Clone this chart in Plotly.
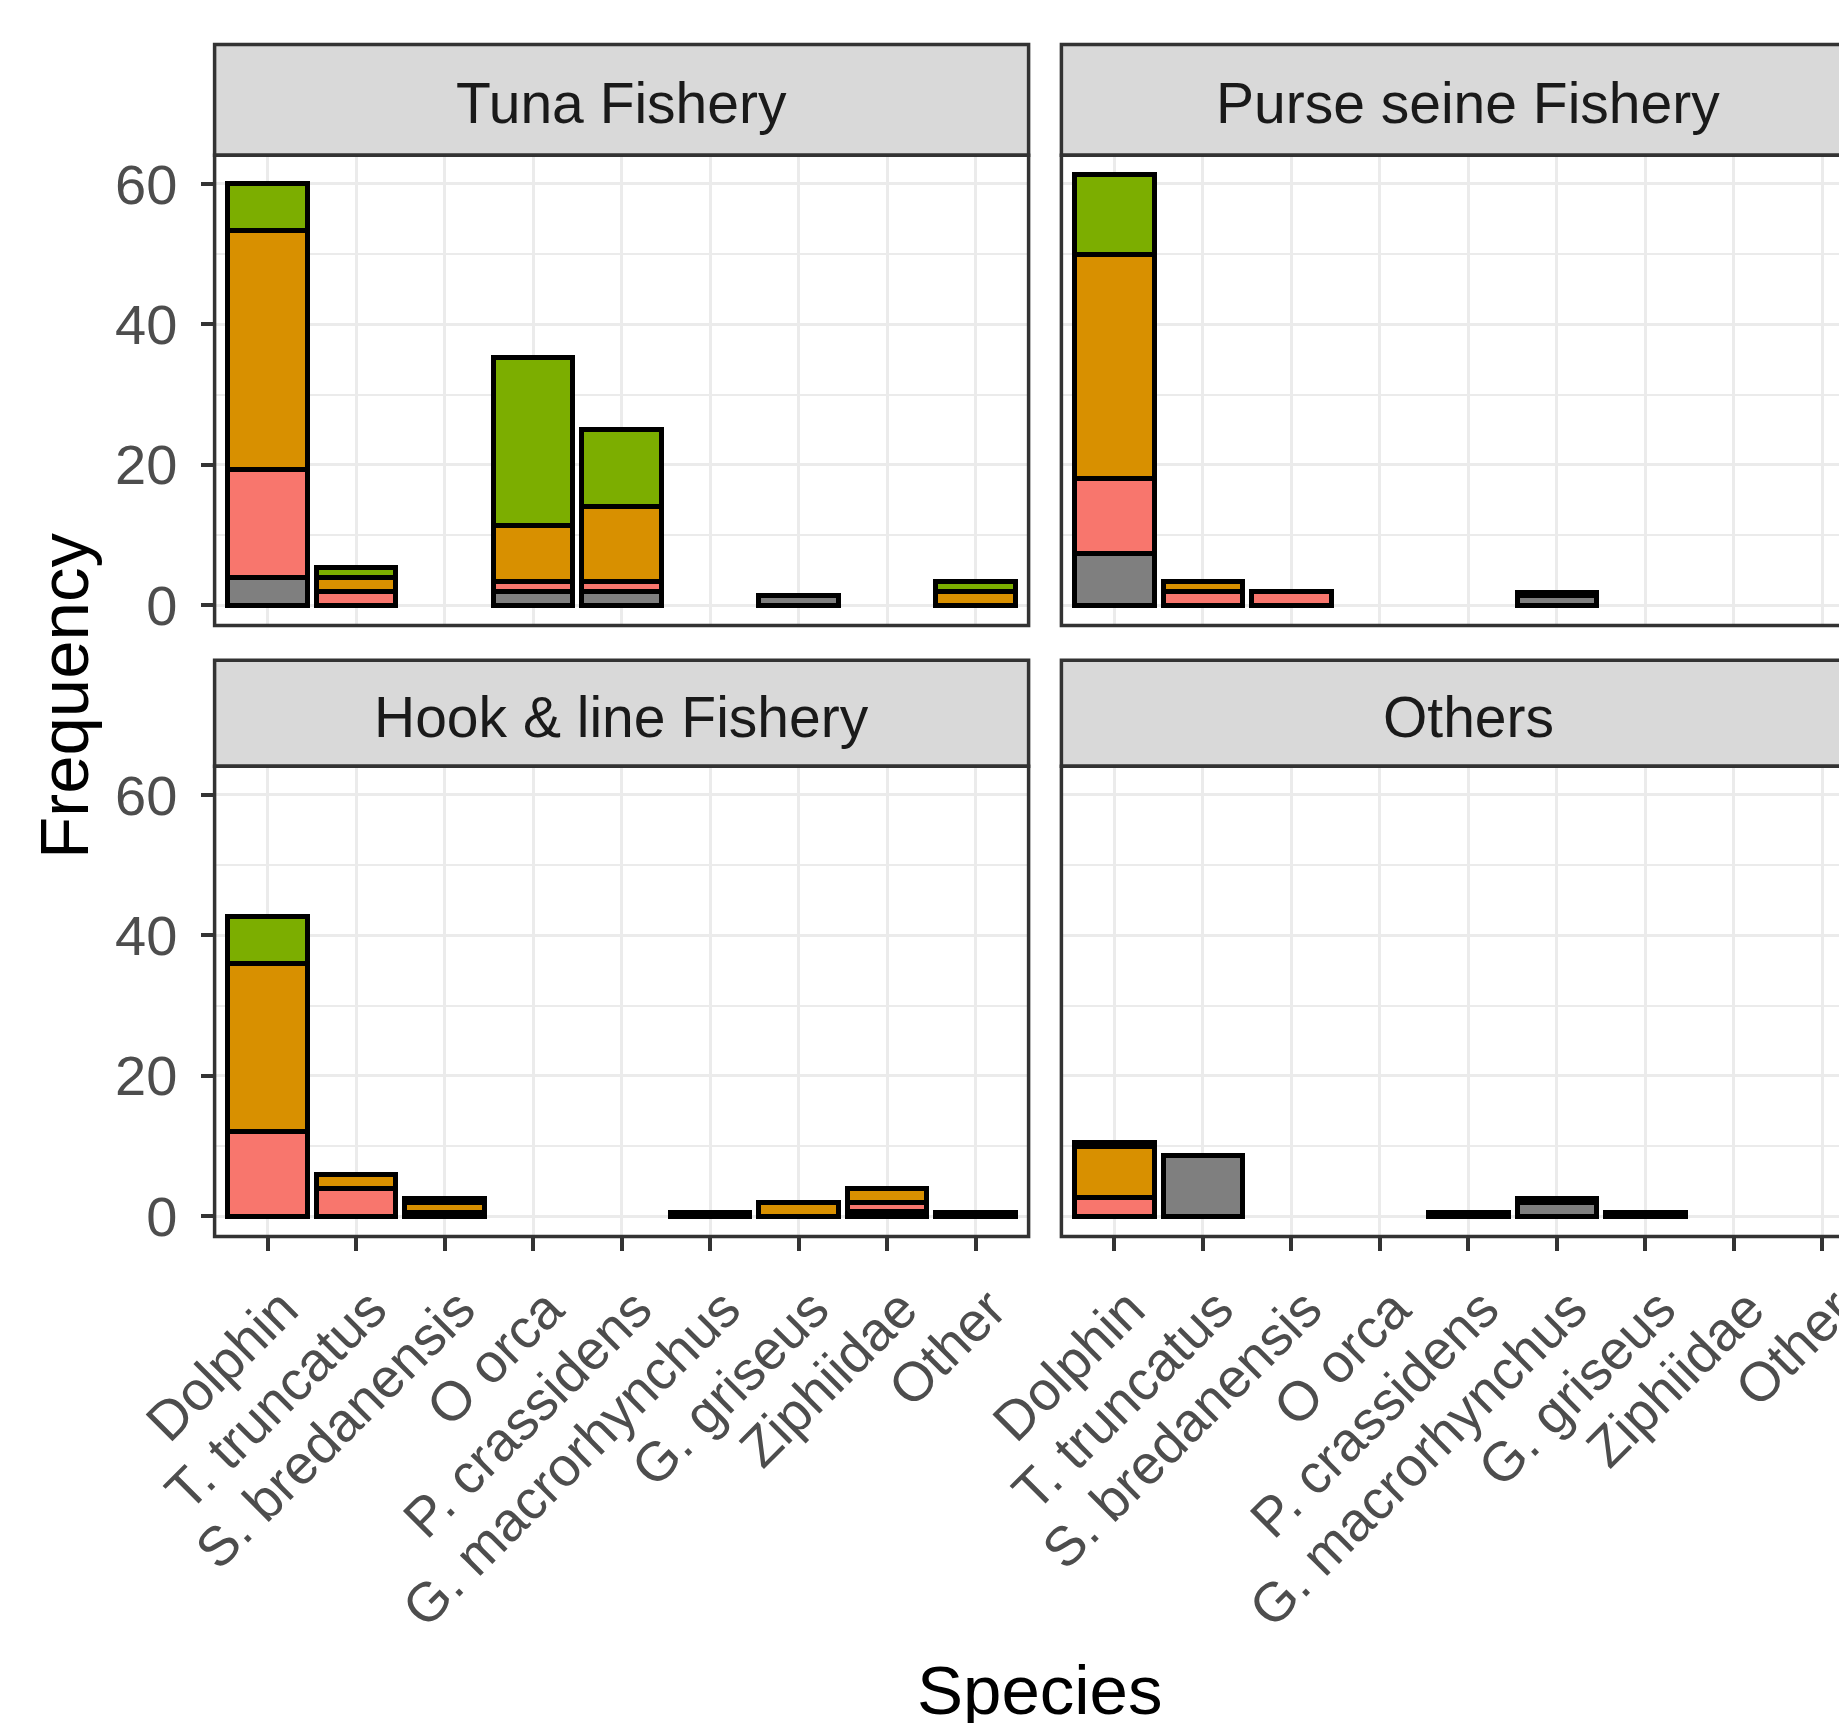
import plotly.graph_objects as go

# ---- data -------------------------------------------------------------
species = ["Dolphin", "T. truncatus", "S. bredanensis", "O orca", "P. crassidens",
           "G. macrorhynchus", "G. griseus", "Ziphiidae", "Other"]

fisheries = ["Tuna Fishery", "Purse seine Fishery", "Hook & line Fishery", "Others"]

groups = ["Not recorded", "Group A", "Group B", "Group C"]          # bottom -> top of stack
group_colors = ["#7F7F7F", "#F8766D", "#D89000", "#7CAE00"]

tuna_not_recorded = [4, 0, 0, 2, 2, 0, 1.33, 0, 0]
tuna_group_a      = [15.33, 2, 0, 1.33, 1.33, 0, 0, 0, 0]
tuna_group_b      = [34, 2, 0, 8, 10.67, 0, 0, 0, 2]
tuna_group_c      = [6.67, 1.33, 0, 24, 11, 0, 0, 0, 1.33]

purse_not_recorded = [7.33, 0, 0, 0, 0, 1.33, 0, 0, 0]
purse_group_a      = [10.67, 2, 2, 0, 0, 0, 0, 0, 0]
purse_group_b      = [32, 1.33, 0, 0, 0, 0, 0, 0, 0]
purse_group_c      = [11.33, 0, 0, 0, 0, 0.5, 0, 0, 0]

hook_not_recorded = [0, 0, 0.5, 0, 0, 0.5, 0, 0.67, 0.5]
hook_group_a      = [12, 4, 0, 0, 0, 0, 0, 1.33, 0]
hook_group_b      = [24, 2, 1.5, 0, 0, 0, 2, 2, 0]
hook_group_c      = [6.67, 0, 0.5, 0, 0, 0, 0, 0, 0]

others_not_recorded = [0, 8.67, 0, 0, 0.5, 2, 0.5, 0, 0]
others_group_a      = [2.67, 0, 0, 0, 0, 0, 0, 0, 0]
others_group_b      = [7.33, 0, 0, 0, 0, 0, 0, 0, 0]
others_group_c      = [0.5, 0, 0, 0, 0, 0.5, 0, 0, 0]

y_ticks = [0, 20, 40, 60]

panel_data = {
    "Tuna Fishery": [tuna_not_recorded, tuna_group_a, tuna_group_b, tuna_group_c],
    "Purse seine Fishery": [purse_not_recorded, purse_group_a, purse_group_b, purse_group_c],
    "Hook & line Fishery": [hook_not_recorded, hook_group_a, hook_group_b, hook_group_c],
    "Others": [others_not_recorded, others_group_a, others_group_b, others_group_c],
}

# ---- layout geometry (pixels) ----------------------------------------
W, H = 1839, 1723
FONT = "Liberation Sans, Arial, sans-serif"
UNIT_X = 814.0 / 9.2            # pixels per category step

col_x = [(214.6, 1028.6), (1061.4, 1875.4)]
row_y = [(155.2, 625.6), (766.2, 1236.6)]      # panel body top/bottom
strip_top = [44.6, 660.3]
Y_RANGE = [-2.9, 64.1]
GRID = "#EBEBEB"


def px(x):
    return x / W


def py(y):
    return 1 - y / H


fig = go.Figure()

axis_ids = ["", "2", "3", "4"]
for k, name in enumerate(fisheries):
    r, c = divmod(k, 2)
    xa = "x" + axis_ids[k]
    ya = "y" + axis_ids[k]
    for g, vals in enumerate(panel_data[name]):
        fig.add_trace(go.Bar(
            x=species,
            y=[v if v else None for v in vals],
            name=groups[g],
            marker=dict(color=group_colors[g], line=dict(color="black", width=5)),
            xaxis=xa, yaxis=ya,
            showlegend=False,
        ))

    x0, x1 = col_x[c]
    y0, y1 = row_y[r]
    x_dom = [px(x0), min(px(x1), 1.0)]
    x_hi = -0.6 + (min(x1, W) - x0) / UNIT_X
    bottom = (r == 1)
    left = (c == 0)

    xaxis = dict(
        domain=x_dom, anchor=ya, type="category", automargin=False,
        categoryorder="array", categoryarray=species,
        range=[-0.6, x_hi], showgrid=True, gridcolor=GRID, gridwidth=2.8,
        zeroline=False, showline=False, fixedrange=True,
        showticklabels=bottom, ticks="outside" if bottom else "",
        ticklen=13, tickwidth=3.5, tickcolor="#333333",
        tickangle=-45, ticklabelshift=14, ticklabelstandoff=4,
        tickfont=dict(family=FONT, size=55, color="#4D4D4D"),
    )
    yaxis = dict(
        domain=[py(y1), py(y0)], anchor=xa, range=Y_RANGE, automargin=False,
        tickvals=y_ticks, showgrid=True, gridcolor=GRID, gridwidth=2.8,
        minor=dict(dtick=10, tick0=0, showgrid=True, gridcolor=GRID, gridwidth=2.4),
        zeroline=False, showline=False, fixedrange=True,
        showticklabels=left, ticks="outside" if left else "",
        ticklen=13, tickwidth=3.5, tickcolor="#333333",
        ticklabelstandoff=12,
        tickfont=dict(family=FONT, size=56, color="#4D4D4D"),
    )
    fig.layout["xaxis" + axis_ids[k]] = xaxis
    fig.layout["yaxis" + axis_ids[k]] = yaxis

    # strip
    fig.add_shape(type="rect", xref="paper", yref="paper",
                  x0=px(x0), x1=px(x1), y0=py(y0), y1=py(strip_top[r]),
                  fillcolor="#D9D9D9", line=dict(color="#333333", width=3.5), layer="below")
    fig.add_annotation(text=name, xref="paper", yref="paper",
                       x=px((x0 + x1) / 2), y=py((strip_top[r] + y0) / 2 + 3.5),
                       showarrow=False, xanchor="center", yanchor="middle",
                       font=dict(family=FONT, size=57, color="#1A1A1A"))
    # panel border
    fig.add_shape(type="rect", xref="paper", yref="paper",
                  x0=px(x0), x1=px(x1), y0=py(y1), y1=py(y0),
                  fillcolor="rgba(0,0,0,0)", line=dict(color="#333333", width=3.5), layer="above")

# axis titles
fig.add_annotation(text="Frequency", xref="paper", yref="paper", x=px(64), y=py(696),
                   textangle=-90, showarrow=False, xanchor="center", yanchor="middle",
                   font=dict(family=FONT, size=69, color="black"))
fig.add_annotation(text="Species", xref="paper", yref="paper", x=px(1039), y=py(1690),
                   showarrow=False, xanchor="center", yanchor="middle",
                   font=dict(family=FONT, size=69, color="black"))

fig.update_layout(
    width=W, height=H, margin=dict(l=0, r=0, t=0, b=0, autoexpand=False),
    paper_bgcolor="white", plot_bgcolor="white",
    barmode="stack", bargap=0.1, showlegend=False,
    font=dict(family=FONT),
)

fig.write_html("out.html")
